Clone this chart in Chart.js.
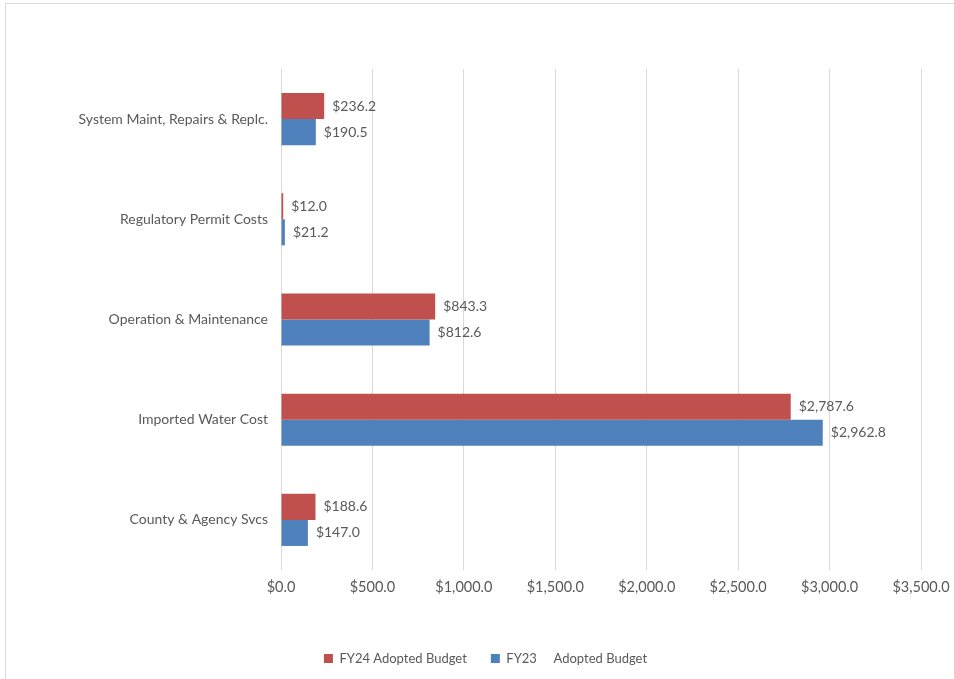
<!DOCTYPE html>
<html>
<head>
<meta charset="utf-8">
<script src="https://cdn.jsdelivr.net/npm/chart.js@4.4.0/dist/chart.umd.min.js"></script>
<style>
  html, body { margin: 0; padding: 0; background: #fff; overflow: hidden; }
  .frame { position: absolute; left: 5px; top: 3px; width: 1200px; height: 1000px; border: 1px solid #d9d9d9; }
  .wrap { position: absolute; left: 0; top: 0; width: 954px; height: 679px; }
</style>
</head>
<body>
<div class="frame"></div>
<div class="wrap"><canvas id="chart" width="954" height="679"></canvas></div>
<script>
// budget categories, top to bottom
var categories = [
  'System Maint, Repairs & Replc.',
  'Regulatory Permit Costs',
  'Operation & Maintenance',
  'Imported Water Cost',
  'County & Agency Svcs'
];
var seriesNames = ['FY24 Adopted Budget', 'FY23     Adopted Budget'];
var fy24 = [236.2, 12.0, 843.3, 2787.6, 188.6];
var fy23 = [190.5, 21.2, 812.6, 2962.8, 147.0];
var xTicks = [0, 500, 1000, 1500, 2000, 2500, 3000, 3500];

var FONT = 'Lato, "Liberation Sans", sans-serif';
var GREY = '#595959';

function money(v) {
  return '$' + v.toLocaleString('en-US', { minimumFractionDigits: 1, maximumFractionDigits: 1 });
}

// value labels at the end of each bar
var barLabels = {
  id: 'barLabels',
  afterDatasetsDraw: function(chart) {
    var ctx = chart.ctx;
    ctx.save();
    ctx.font = '14px ' + FONT;
    ctx.fillStyle = GREY;
    ctx.textAlign = 'left';
    ctx.textBaseline = 'middle';
    chart.data.datasets.forEach(function(ds, i) {
      chart.getDatasetMeta(i).data.forEach(function(bar, j) {
        ctx.fillText(money(ds.data[j]), bar.x + 8, bar.y);
      });
    });
    ctx.restore();
  }
};

new Chart(document.getElementById('chart'), {
  type: 'bar',
  data: {
    labels: categories,
    datasets: [
      { label: seriesNames[0], data: fy24, backgroundColor: '#C0504D', barPercentage: 1, categoryPercentage: 0.52 },
      { label: seriesNames[1], data: fy23, backgroundColor: '#4F81BD', barPercentage: 1, categoryPercentage: 0.52 }
    ]
  },
  options: {
    indexAxis: 'y',
    responsive: false,
    animation: false,
    layout: { padding: { left: 50, right: 33, top: 69, bottom: 4 } },
    scales: {
      x: {
        min: 0,
        max: 3500,
        afterBuildTicks: function(scale) {
          scale.ticks = xTicks.map(function(v) { return { value: v }; });
        },
        afterFit: function(scale) {
          scale.height = 58;
          scale.paddingLeft = 0;
          scale.paddingRight = 0;
        },
        grid: { color: '#d9d9d9', lineWidth: 1, drawTicks: false },
        border: { display: false },
        ticks: {
          padding: 9,
          color: GREY,
          font: { family: FONT, size: 14.5 },
          callback: function(v) { return money(v); }
        }
      },
      y: {
        afterFit: function(scale) { scale.width = 231; },
        grid: { display: false },
        border: { display: false },
        ticks: {
          padding: 5,
          color: GREY,
          font: { family: FONT, size: 14 }
        }
      }
    },
    plugins: {
      legend: {
        position: 'bottom',
        labels: {
          boxWidth: 9,
          boxHeight: 9,
          padding: 24,
          color: GREY,
          font: { family: FONT, size: 13 }
        }
      },
      tooltip: { enabled: false }
    }
  },
  plugins: [barLabels]
});
</script>
</body>
</html>
